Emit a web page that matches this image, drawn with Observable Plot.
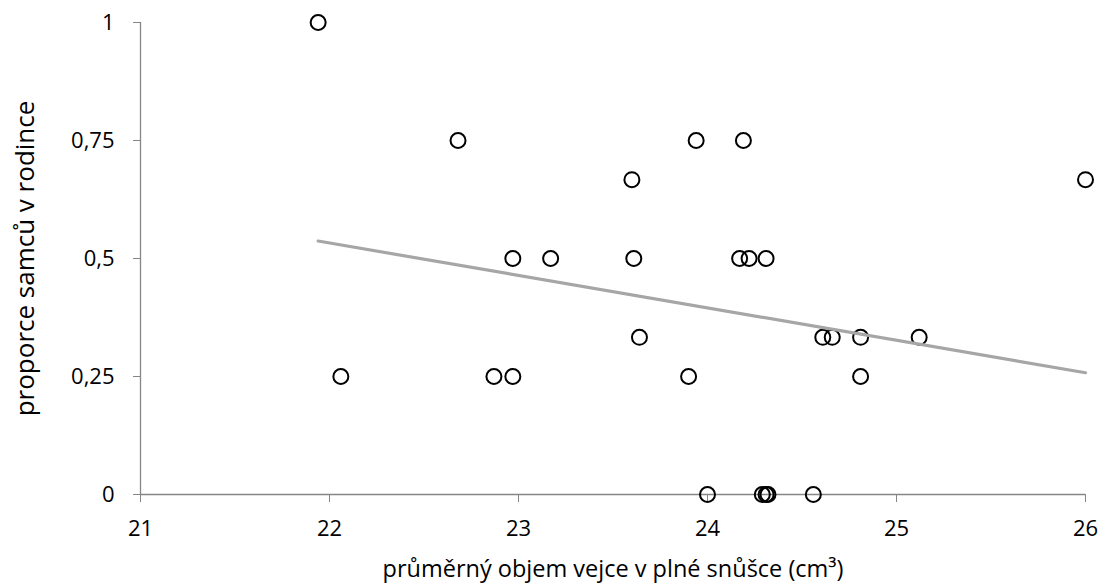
<!DOCTYPE html>
<html>
<head>
<meta charset="utf-8">
<script src="https://cdn.jsdelivr.net/npm/d3@7"></script>
<script src="https://cdn.jsdelivr.net/npm/@observablehq/plot@0.6"></script>
<style>
  html, body { margin: 0; padding: 0; background: #fff; }
  #chart svg { display: block; }
</style>
</head>
<body>
<div id="chart"></div>
<script>
// Data
const eggVolume = [
  21.94, 22.68, 23.94, 24.19, 23.60, 26.00,
  22.97, 23.17, 23.61, 24.17, 24.22, 24.31,
  23.64, 24.61, 24.66, 24.81, 25.12,
  22.06, 22.87, 22.97, 23.90, 24.81,
  24.00, 24.29, 24.31, 24.32, 24.56
];
const maleProportion = [
  1, 0.75, 0.75, 0.75, 0.667, 0.667,
  0.5, 0.5, 0.5, 0.5, 0.5, 0.5,
  0.333, 0.333, 0.333, 0.333, 0.333,
  0.25, 0.25, 0.25, 0.25, 0.25,
  0, 0, 0, 0, 0
];
const trendX = [21.94, 26.0];
const trendY = [0.537, 0.258];
const xTicks = [21, 22, 23, 24, 25, 26];
const yTicks = [0, 0.25, 0.5, 0.75, 1];
const xTitle = "průměrný objem vejce v plné snůšce (cm³)";
const yTitle = "proporce samců v rodince";

const points = eggVolume.map((x, i) => ({x, y: maleProportion[i]}));
const trend = trendX.map((x, i) => ({x, y: trendY[i]}));

const axisGray = "#868686";

const chart = Plot.plot({
  width: 1102,
  height: 588,
  marginLeft: 140,
  marginRight: 17,
  marginTop: 22,
  marginBottom: 94,
  style: {fontFamily: "'Open Sans', sans-serif", fontSize: "22px", background: "#fff", color: "#000"},
  x: {domain: [21, 26]},
  y: {domain: [0, 1]},
  marks: [
    Plot.ruleY([0], {stroke: axisGray, strokeWidth: 1.3}),
    Plot.ruleX([21], {stroke: axisGray, strokeWidth: 1.3}),
    Plot.axisX({ticks: xTicks, tickSize: 8, tickPadding: 18, stroke: axisGray, fill: "#000", fontSize: 22, label: null, tickFormat: d => String(d)}),
    Plot.axisY({ticks: yTicks, tickSize: 7, tickPadding: 19, stroke: axisGray, fill: "#000", fontSize: 22, label: null, tickFormat: d => String(d).replace(".", ",")}),
    Plot.dot(points, {x: "x", y: "y", r: 7.5, stroke: "#000", strokeWidth: 2, fill: "none"}),
    Plot.line(trend, {x: "x", y: "y", stroke: "#A6A6A6", strokeWidth: 3.2}),
    Plot.text([xTitle], {frameAnchor: "bottom", dy: 82, lineAnchor: "bottom", fontSize: 23.5, fill: "#000"}),
    Plot.text([yTitle], {frameAnchor: "left", dx: -115, rotate: -90, textAnchor: "middle", fontSize: 26, fill: "#000"})
  ]
});
document.getElementById("chart").append(chart);
</script>
</body>
</html>
